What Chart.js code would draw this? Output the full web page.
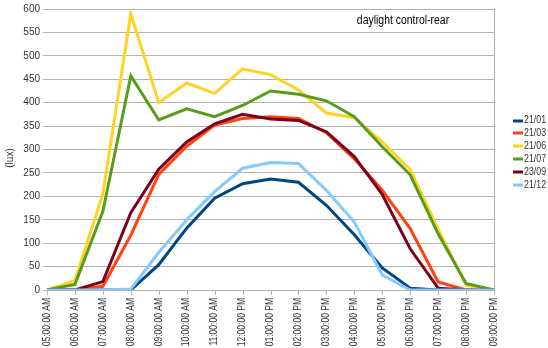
<!DOCTYPE html>
<html lang="en">
<head>
    <meta charset="UTF-8">
    <title>daylight control-rear</title>
    <script src="https://cdn.jsdelivr.net/npm/chart.js@4.4.0/dist/chart.umd.min.js"></script>
    <style>
        body{
            margin: 0;
            background-color: white;
        }
        .grafica{
            position: absolute;
            left: 0;
            top: 0;
            width: 548px;
            height: 348px;
        }
    </style>
</head>
<body>
    <div class="grafica">
        <canvas id="miCanvas"></canvas>
    </div>
    <script>
        const horas = ['05:00:00 AM','06:00:00 AM','07:00:00 AM','08:00:00 AM','09:00:00 AM','10:00:00 AM',
            '11:00:00 AM','12:00:00 PM','01:00:00 PM','02:00:00 PM','03:00:00 PM','04:00:00 PM',
            '05:00:00 PM','06:00:00 PM','07:00:00 PM','08:00:00 PM','09:00:00 PM'];
        const series = ['21/01','21/03','21/06','21/07','23/09','21/12'];
        const d2101 = [0,0,0,0,54,132,196,227,237,230,181,118,47,4,0,0,0];
        const d2103 = [0,0,8,117,247,307,352,366,370,366,336,280,213,131,17,0,0];
        const d2106 = [0,20,205,590,400,442,420,472,460,427,378,368,316,257,130,10,0];
        const d2107 = [0,12,168,457,363,387,370,394,425,418,404,370,306,246,120,14,0];
        const d2309 = [0,0,18,165,258,316,355,375,365,362,338,285,204,88,4,0,0];
        const d2112 = [0,0,0,2,80,150,210,260,272,270,213,145,32,0,0,0,0];
        const colores = ['#004586','#ff420e','#ffd320','#579d1c','#7e0021','#83caff'];
        const valores = [d2101,d2103,d2106,d2107,d2309,d2112];

        const fuente = "'Liberation Sans', Arial, sans-serif";

        // x labels, legend, title and right border drawn by hand
        const extras = {
            id: 'extras',
            afterDraw(chart){
                const ctx = chart.ctx;
                const xs = chart.scales.x;
                const area = chart.chartArea;
                ctx.save();
                ctx.strokeStyle = '#b3b3b3';
                ctx.lineWidth = 1;
                ctx.beginPath();
                ctx.moveTo(Math.round(area.right) + 0.5, area.top);
                ctx.lineTo(Math.round(area.right) + 0.5, area.bottom);
                for(let i = 0; i < horas.length; i++){
                    const x = Math.round(xs.getPixelForTick(i)) + 0.5;
                    ctx.moveTo(x, area.bottom);
                    ctx.lineTo(x, area.bottom + 5);
                }
                ctx.stroke();

                ctx.fillStyle = '#333';
                ctx.font = '10px ' + fuente;
                ctx.textAlign = 'right';
                ctx.textBaseline = 'middle';
                for(let i = 0; i < horas.length; i++){
                    const x = xs.getPixelForTick(i);
                    ctx.save();
                    ctx.translate(x, area.bottom + 8);
                    ctx.rotate(-Math.PI / 2);
                    ctx.scale(0.85, 1);
                    ctx.fillText(horas[i], 0, 0);
                    ctx.restore();
                }

                // y title
                ctx.save();
                ctx.font = '10px ' + fuente;
                ctx.translate(10, 158);
                ctx.rotate(-Math.PI / 2);
                ctx.textAlign = 'center';
                ctx.fillText('(lux)', 0, 0);
                ctx.restore();

                // title
                ctx.save();
                ctx.fillStyle = '#000';
                ctx.font = '12px ' + fuente;
                ctx.textAlign = 'center';
                ctx.translate(403, 21);
                ctx.scale(0.87, 1);
                ctx.fillText('daylight control-rear', 0, 0);
                ctx.restore();

                // legend
                ctx.font = '10px ' + fuente;
                ctx.textAlign = 'left';
                for(let i = 0; i < series.length; i++){
                    const y = 120.5 + i * 12.9;
                    ctx.fillStyle = colores[i];
                    ctx.fillRect(513, Math.round(y) - 1.5, 10, 3);
                    ctx.fillStyle = '#333';
                    ctx.save();
                    ctx.translate(524, y);
                    ctx.scale(0.88, 1);
                    ctx.fillText(series[i], 0, 0);
                    ctx.restore();
                }
                ctx.restore();
            }
        };

        const miCanvas = document.getElementById('miCanvas').getContext('2d');
        window.miCanva = new Chart(miCanvas, {
            type: 'line',
            data: {
                labels: horas,
                datasets: series.map((s, i) => ({
                    label: s,
                    data: valores[i],
                    borderColor: colores[i],
                    backgroundColor: colores[i],
                    borderWidth: 3,
                    pointRadius: 0,
                    tension: 0,
                    order: series.length - i
                }))
            },
            options: {
                responsive: true,
                maintainAspectRatio: false,
                animation: false,
                layout: {padding: {left: 0, top: 5, right: 54, bottom: 0}},
                plugins: {
                    legend: {display: false},
                    tooltip: {enabled: false}
                },
                scales: {
                    x: {
                        grid: {display: false},
                        border: {display: true, color: '#b3b3b3'},
                        ticks: {display: false},
                        afterFit: (scale) => { scale.height = 58; }
                    },
                    y: {
                        min: 0,
                        max: 600,
                        ticks: {
                            stepSize: 50,
                            color: '#333',
                            padding: 3,
                            font: {family: fuente, size: 10}
                        },
                        grid: {color: '#b3b3b3', tickLength: 4},
                        border: {display: false},
                        afterFit: (scale) => { scale.width = 47; }
                    }
                }
            },
            plugins: [extras]
        });
    </script>
</body>
</html>
